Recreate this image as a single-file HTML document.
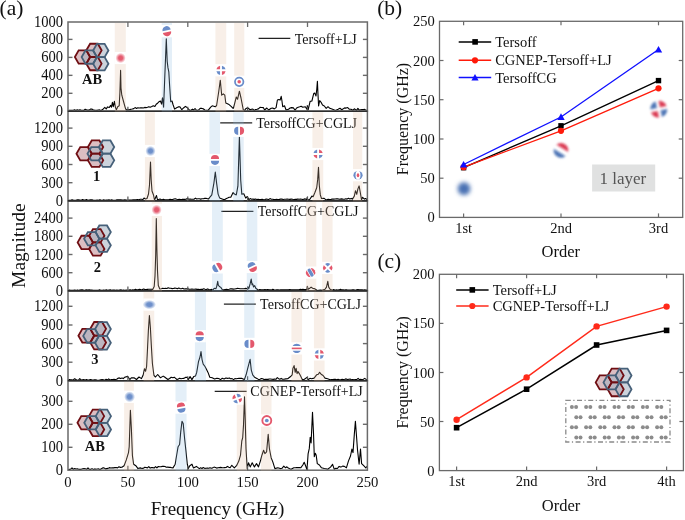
<!DOCTYPE html><html><head><meta charset="utf-8"><style>html,body{margin:0;padding:0;background:#fff;}svg{display:block;will-change:transform}</style></head><body>
<svg width="685" height="520" viewBox="0 0 685 520" font-family="Liberation Serif">
<defs><filter id="soft" x="-50%" y="-50%" width="200%" height="200%"><feGaussianBlur stdDeviation="0.55"/></filter><filter id="blur2" x="-50%" y="-50%" width="200%" height="200%"><feGaussianBlur stdDeviation="1.5"/></filter><filter id="blur3" x="-50%" y="-50%" width="200%" height="200%"><feGaussianBlur stdDeviation="1.0"/></filter><filter id="blur4" x="-50%" y="-50%" width="200%" height="200%"><feGaussianBlur stdDeviation="1.3"/></filter><filter id="blur5" x="-80%" y="-80%" width="260%" height="260%"><feGaussianBlur stdDeviation="1.9"/></filter><radialGradient id="gR"><stop offset="0" stop-color="#df3a52"/><stop offset="0.4" stop-color="#df3a52" stop-opacity="0.95"/><stop offset="1" stop-color="#df3a52" stop-opacity="0"/></radialGradient><radialGradient id="gB"><stop offset="0" stop-color="#5079c0"/><stop offset="0.4" stop-color="#5079c0" stop-opacity="0.95"/><stop offset="1" stop-color="#5079c0" stop-opacity="0"/></radialGradient><radialGradient id="bigB"><stop offset="0" stop-color="#4a72b4"/><stop offset="0.45" stop-color="#5279b8"/><stop offset="1" stop-color="#7d9bcb" stop-opacity="0"/></radialGradient></defs>
<rect width="685" height="520" fill="#fff"/>
<polyline points="68.0,110.6 69.3,110.4 70.6,110.2 72.0,110.4 73.3,110.3 74.6,109.8 75.9,110.4 77.2,109.7 78.6,110.2 79.9,109.7 81.2,110.3 82.5,110.2 83.8,110.4 85.2,109.2 86.5,109.8 87.8,110.1 89.1,110.1 90.4,109.1 91.8,109.1 93.1,109.7 94.4,110.1 95.7,110.2 97.0,110.4 98.4,110.0 99.7,109.9 101.0,110.4 102.6,109.6 104.8,107.4 106.2,109.0 107.5,106.9 109.3,107.5 110.6,105.4 111.5,107.2 112.4,102.3 113.3,106.7 114.4,101.4 115.5,107.6 116.4,109.8 117.7,106.7 119.2,105.8 119.9,92.5 120.6,70.4 121.0,88.1 121.8,95.2 123.4,101.0 125.2,107.6 126.1,109.8 127.9,109.9 129.6,109.6 131.0,109.2 132.3,109.0 133.7,108.6 135.1,107.6 136.5,108.4 137.8,107.7 139.2,108.0 140.6,107.8 142.0,107.9 143.3,108.0 144.7,107.4 146.1,107.6 147.5,107.2 148.8,106.7 150.2,107.3 151.8,106.6 153.3,105.8 154.9,106.5 156.2,104.3 157.6,103.2 158.9,101.8 160.4,101.0 161.6,104.1 162.5,97.8 163.6,107.3 164.4,86.8 166.3,38.7 167.2,61.5 168.0,67.9 168.8,71.8 169.6,85.2 170.7,101.8 172.0,101.0 173.0,104.5 174.6,109.1 176.6,107.7 178.2,106.9 179.9,106.8 181.8,109.7 183.8,107.7 185.4,106.4 187.1,107.5 189.7,110.4 191.0,110.2 192.4,109.1 193.7,110.0 195.0,108.5 196.3,110.0 197.6,110.4 198.9,109.6 200.2,108.4 201.5,108.4 203.2,108.8 204.8,110.0 206.4,110.2 208.1,110.4 210.7,107.1 212.2,105.8 213.8,106.2 215.3,106.8 216.6,105.5 218.6,92.5 220.3,80.2 221.7,95.2 223.3,93.8 224.8,95.2 225.8,103.1 228.5,104.2 231.1,106.4 233.1,108.4 233.6,107.6 236.3,97.0 237.6,99.2 239.4,91.2 241.0,98.0 243.3,109.8 244.2,110.8 245.8,108.7 247.5,107.7 250.2,109.7 251.5,109.2 252.8,109.0 254.1,110.4 255.5,109.6 257.0,109.3 258.4,108.9 260.0,107.4 261.7,107.5 263.3,107.6 264.6,110.0 266.8,108.0 268.6,110.0 271.2,108.3 272.8,108.1 274.3,108.9 276.1,107.6 277.4,100.1 278.8,99.6 280.1,100.1 281.2,96.3 281.9,100.5 282.7,106.7 284.5,105.8 286.1,110.0 288.5,109.2 290.1,108.0 291.6,107.6 293.4,107.9 295.1,110.3 296.6,108.0 298.2,107.2 299.7,106.8 301.2,106.2 302.7,107.2 305.3,106.7 307.1,109.5 307.3,105.6 308.2,109.7 310.1,101.4 311.9,101.0 313.7,93.6 314.7,93.1 316.0,95.9 316.8,89.0 317.4,81.2 317.9,92.7 318.6,106.0 319.7,100.5 321.1,102.3 322.5,105.1 324.3,106.0 326.2,108.3 328.0,106.7 329.8,108.3 332.6,109.2 335.4,110.4 338.1,109.2 340.0,108.3 341.8,109.7 344.6,107.9 346.1,108.1 347.7,107.6 349.2,109.2 351.0,109.2 352.8,110.2 354.6,108.8 356.5,110.4 357.9,108.4 359.2,110.1 360.6,109.8 361.9,109.5 363.3,109.6 364.7,109.4 366.0,110.2 367.4,110.3" fill="none" stroke="#000" stroke-width="1.1" stroke-linejoin="round"/>
<polyline points="68.0,200.4 69.3,200.3 70.6,200.2 72.0,199.8 73.3,200.1 74.6,200.2 75.9,200.2 77.3,199.8 78.6,199.9 79.9,200.0 81.2,200.2 82.5,199.6 83.9,200.1 85.2,200.0 86.5,199.6 87.8,200.3 89.2,200.0 90.5,199.8 91.8,199.7 93.1,200.1 94.4,200.3 95.8,200.2 97.1,200.1 98.4,200.3 99.7,199.9 101.1,200.1 102.4,200.2 103.7,199.9 105.0,200.3 106.3,200.0 107.7,200.0 109.0,199.7 110.3,200.2 111.6,199.8 113.0,200.3 114.3,200.3 115.6,200.2 116.9,199.8 118.2,199.9 119.6,199.8 120.9,199.8 122.2,200.0 123.5,200.1 124.9,199.9 126.2,200.0 127.5,200.3 128.9,200.1 130.3,200.1 131.7,200.0 133.1,199.8 134.5,199.9 136.0,199.8 137.4,199.6 138.8,199.7 140.2,199.3 141.6,199.3 143.0,199.5 144.0,198.0 145.5,199.0 147.0,198.5 148.5,194.0 149.5,185.0 150.5,162.0 151.2,180.0 152.0,191.0 153.5,195.0 154.5,200.0 156.5,195.5 157.5,200.0 160.0,199.0 162.0,200.0 163.3,199.2 164.7,199.8 166.0,199.7 167.3,199.7 168.7,199.8 170.0,199.4 171.3,199.6 172.7,199.6 174.0,199.0 175.3,198.7 176.7,199.2 178.0,199.5 179.3,199.4 180.7,199.5 182.0,199.4 183.3,199.2 184.7,199.4 186.0,199.2 187.4,198.4 188.7,199.2 190.0,199.1 191.4,199.3 192.7,199.2 194.0,199.2 195.4,198.1 196.7,199.0 198.0,198.7 199.4,198.7 200.7,199.1 202.0,198.7 203.4,198.7 204.7,198.4 206.0,198.3 207.4,198.8 208.7,198.9 210.2,196.8 211.8,194.9 213.9,183.1 215.3,172.0 216.6,183.1 218.1,194.1 219.7,198.1 222.1,198.9 224.4,199.7 226.0,198.7 227.6,198.1 229.2,197.3 230.8,197.3 233.1,192.6 234.4,194.1 236.3,194.9 237.9,186.2 239.4,136.6 240.7,180.0 241.8,194.1 243.8,193.8 245.7,198.1 247.3,196.5 248.9,199.7 250.2,198.6 251.5,199.3 252.9,199.1 254.2,199.4 255.5,199.1 256.8,199.6 258.1,199.2 259.5,199.6 260.8,199.6 262.1,199.4 263.4,199.6 264.7,199.7 266.1,199.1 267.4,199.3 268.7,199.6 270.0,198.6 271.3,199.2 272.7,199.3 274.0,199.6 275.3,199.6 276.6,199.4 277.9,199.6 279.3,199.4 280.6,199.1 281.9,199.1 283.2,199.5 284.6,199.3 285.9,199.3 287.2,199.1 288.5,199.2 289.8,199.4 291.2,199.1 292.5,199.3 293.8,199.7 295.1,199.2 296.4,199.4 297.8,199.1 299.1,199.3 300.4,199.1 301.7,199.3 303.0,199.6 304.4,198.9 305.7,199.1 307.0,199.7 307.2,197.3 307.6,199.7 309.5,199.7 311.9,196.1 313.1,196.7 314.9,192.5 316.7,187.7 317.7,179.4 318.5,167.2 319.3,185.3 320.3,194.9 321.5,198.5 323.9,198.2 325.7,199.7 327.0,199.6 328.4,199.4 329.7,199.5 331.1,199.4 332.4,199.0 333.7,199.1 335.1,199.0 336.4,198.9 337.8,198.8 339.1,199.3 340.4,199.1 341.8,198.9 343.1,199.3 344.5,199.2 345.8,198.7 347.1,199.1 348.5,198.3 349.8,199.0 351.2,198.4 352.5,199.1 354.3,196.1 355.5,190.7 356.7,194.3 357.9,188.9 359.1,185.9 360.3,192.5 361.5,199.7 362.6,197.3 364.4,199.1 365.6,198.5 367.4,199.8" fill="none" stroke="#000" stroke-width="1.1" stroke-linejoin="round"/>
<polyline points="68.0,290.4 69.3,290.1 70.6,290.3 72.0,290.2 73.3,290.4 74.6,290.1 75.9,290.4 77.3,289.9 78.6,290.4 79.9,290.0 81.2,289.9 82.5,289.8 83.9,290.2 85.2,290.1 86.5,289.7 87.8,290.0 89.2,289.7 90.5,290.0 91.8,290.0 93.1,290.4 94.4,290.3 95.8,290.4 97.1,290.2 98.4,290.3 99.7,289.8 101.1,290.4 102.4,290.2 103.7,290.0 105.0,290.3 106.3,289.9 107.7,290.2 109.0,290.0 110.3,289.8 111.6,290.2 113.0,290.0 114.3,290.1 115.6,290.4 116.9,290.1 118.2,290.3 119.6,290.0 120.9,289.8 122.2,290.2 123.5,290.1 124.9,290.2 126.2,290.1 127.5,290.4 128.8,290.1 130.2,289.7 131.5,290.2 132.8,289.8 134.1,290.0 135.5,289.2 136.8,289.9 138.1,289.7 139.4,289.2 140.8,289.6 142.1,289.7 143.4,289.0 144.7,289.4 146.1,289.6 147.4,289.4 148.7,289.3 150.0,289.2 151.4,289.2 152.7,289.4 154.2,286.5 155.0,276.0 155.7,255.0 156.3,218.6 156.9,250.0 157.5,271.0 158.3,285.5 159.8,289.0 161.2,288.8 162.6,288.3 164.1,288.5 165.5,288.4 166.9,288.5 168.2,287.8 169.5,288.3 170.8,288.2 172.2,288.6 173.5,288.5 174.8,288.1 176.1,288.2 177.4,288.7 178.7,288.0 180.0,288.6 181.4,288.7 182.7,288.3 184.0,289.0 185.3,288.9 186.6,288.8 187.9,288.9 189.2,289.2 190.6,289.2 191.9,289.0 193.2,289.3 194.5,289.3 195.8,289.1 197.1,289.4 198.4,289.2 199.8,289.5 201.1,289.3 202.4,289.4 203.7,288.7 205.0,289.3 206.3,289.6 207.6,288.9 209.0,289.6 210.3,289.7 211.6,289.4 212.9,290.0 214.2,288.3 215.9,288.7 216.8,286.1 217.7,281.3 218.3,285.2 219.4,286.5 220.8,287.4 222.5,290.0 225.1,289.6 226.5,289.4 227.8,289.5 229.2,289.2 230.6,288.7 231.9,288.9 233.3,289.1 234.7,289.0 236.1,288.7 237.4,288.4 238.8,288.5 240.2,288.7 241.5,288.8 242.9,288.8 244.3,288.7 245.6,288.4 247.0,288.7 247.9,287.0 248.8,288.7 250.1,283.9 251.2,279.1 252.1,284.8 252.7,283.9 253.6,287.0 254.7,285.6 255.8,288.3 257.1,289.2 258.4,290.3 259.7,289.5 261.0,289.9 262.3,289.8 263.6,289.8 264.9,289.6 266.2,289.8 267.6,289.5 268.9,289.9 270.2,289.8 271.5,290.0 272.8,289.3 274.1,289.8 275.4,290.1 276.7,289.9 278.0,289.8 279.3,290.0 280.6,289.9 281.9,289.9 283.3,289.8 284.6,289.9 285.9,289.8 287.2,289.7 288.5,289.9 289.8,289.6 291.1,289.7 292.4,289.9 293.7,289.8 295.0,289.8 296.3,289.8 297.6,289.8 299.0,289.7 300.3,289.3 301.6,289.6 302.9,289.4 304.2,289.6 305.5,289.6 306.8,289.7 307.3,286.4 308.2,289.3 309.7,288.2 311.1,287.1 312.6,288.2 314.1,288.6 315.5,289.3 317.0,290.5 318.7,290.2 320.4,290.0 322.1,290.2 325.0,289.3 326.5,287.1 327.8,281.3 328.7,287.1 330.1,289.3 332.3,290.3 333.7,289.6 335.0,290.3 336.4,289.9 337.7,290.0 339.1,289.9 340.4,289.3 341.8,289.9 343.1,289.7 344.4,290.1 345.8,289.7 347.1,289.9 348.5,290.0 349.9,290.0 351.2,290.1 352.6,289.7 353.9,289.9 355.2,290.2 356.6,289.9 357.9,289.6 359.3,289.8 360.6,289.8 362.0,289.7 363.3,290.1 364.7,289.9 366.0,290.0 367.4,290.1" fill="none" stroke="#000" stroke-width="1.1" stroke-linejoin="round"/>
<polyline points="68.0,380.3 69.3,379.6 70.6,379.9 71.9,379.7 73.2,380.2 74.6,378.7 75.9,379.5 77.2,380.1 78.5,380.2 79.8,378.6 81.1,380.0 82.4,379.7 83.8,379.6 85.1,380.3 86.4,379.5 87.7,380.1 89.0,380.0 90.3,379.5 91.6,379.7 92.9,380.2 94.2,379.7 95.6,379.9 96.9,380.1 98.2,380.2 99.5,380.1 100.8,379.8 102.1,379.5 103.4,379.8 104.8,380.2 106.1,379.3 107.4,379.9 108.7,378.9 110.0,380.2 111.3,379.6 112.7,379.5 114.0,379.4 115.3,379.5 116.7,379.3 118.0,378.3 119.3,377.9 120.6,378.6 122.0,378.1 123.3,378.6 124.7,377.2 126.0,376.9 127.4,376.2 129.9,379.5 131.3,377.8 132.6,377.9 134.0,377.8 136.5,379.5 139.0,377.0 141.5,378.6 143.1,375.3 144.5,368.7 145.6,371.2 146.6,366.5 147.6,347.0 148.4,330.0 149.4,315.5 150.4,328.0 151.3,345.0 152.4,363.5 153.9,375.3 155.5,377.0 157.7,374.5 160.5,377.8 161.9,376.9 163.2,376.1 164.6,377.0 166.2,378.2 167.9,379.5 169.6,378.5 171.2,377.2 172.9,377.8 174.3,377.2 175.6,378.3 177.0,379.5 178.3,378.9 179.6,378.2 181.0,378.8 182.3,378.5 183.6,378.4 185.4,377.4 187.2,377.2 188.3,379.6 190.1,376.6 191.9,379.6 193.7,376.6 195.5,376.0 196.7,372.4 198.5,361.7 200.0,357.0 201.0,351.6 202.0,359.3 203.2,364.1 205.0,366.5 206.8,370.1 208.0,372.4 209.8,377.2 212.2,377.8 214.6,379.0 216.9,378.2 218.7,378.5 220.5,379.6 222.3,378.3 224.1,379.0 225.9,378.0 227.7,378.4 229.2,377.9 230.6,378.7 232.1,378.6 233.6,379.6 234.9,378.6 236.3,378.8 237.7,378.5 239.0,378.2 242.0,378.4 244.4,379.6 246.1,374.8 247.9,367.7 250.1,359.3 251.3,370.1 252.7,374.8 254.5,377.2 256.9,378.4 258.7,379.6 260.0,379.3 261.4,378.6 262.7,378.8 264.0,379.5 265.3,379.4 266.7,379.3 268.0,379.4 269.3,379.0 270.6,379.0 272.0,379.2 273.3,379.4 274.6,379.0 275.9,379.3 277.3,377.6 278.6,378.7 279.9,379.3 281.2,378.4 282.6,379.2 283.9,379.3 285.8,378.9 287.7,378.7 290.3,376.8 292.2,374.8 292.9,368.4 294.1,365.6 295.2,372.3 296.1,368.4 297.1,373.6 298.0,371.6 299.3,373.6 300.6,376.1 302.5,380.0 304.4,379.3 307.0,377.4 308.3,379.7 309.9,378.3 311.5,378.7 314.1,378.1 316.6,374.8 318.3,374.2 319.6,372.3 321.1,374.2 323.1,375.5 325.0,378.1 327.6,378.7 330.1,379.7 331.4,379.5 332.8,379.5 334.1,379.4 335.4,379.3 336.8,379.7 338.1,379.2 339.4,379.7 340.8,379.7 342.1,379.3 343.4,379.6 344.8,379.3 346.1,378.9 347.4,379.6 348.8,379.3 350.1,379.1 351.4,379.7 352.7,379.5 354.1,379.8 355.4,379.5 356.7,379.6 358.1,378.4 359.4,379.7 360.7,379.2 362.1,379.8 363.4,379.2 364.7,378.4 366.1,379.4 367.4,379.9" fill="none" stroke="#000" stroke-width="1.1" stroke-linejoin="round"/>
<polyline points="68.0,469.6 69.3,469.4 70.7,469.1 72.0,467.9 73.3,469.3 74.7,468.6 76.0,469.0 77.3,468.9 78.7,469.2 80.0,469.4 81.3,469.2 82.7,468.7 84.0,468.6 85.3,468.8 86.7,469.3 88.0,467.9 89.3,469.3 90.7,469.4 92.0,468.6 93.3,469.4 94.7,468.9 96.0,469.2 97.3,469.0 98.7,468.9 100.0,469.4 101.3,468.7 102.7,467.9 104.0,467.9 105.4,468.9 106.7,468.6 108.1,468.4 109.4,467.6 110.8,468.0 112.1,467.9 113.5,467.9 114.8,467.6 116.2,467.5 117.5,467.9 119.0,466.7 120.4,467.4 121.9,467.2 124.1,465.7 126.3,459.9 128.5,452.6 129.2,446.7 130.4,410.2 131.4,429.2 132.4,455.5 133.6,464.2 135.8,465.7 138.0,468.6 139.3,468.1 140.7,467.9 142.1,468.4 143.4,468.2 144.8,467.3 146.1,467.5 147.4,467.9 148.8,466.6 150.2,468.1 151.5,467.5 152.8,467.6 154.2,468.0 155.6,466.7 156.9,467.9 158.3,466.5 159.6,466.7 161.0,466.7 162.3,466.4 163.7,466.2 165.0,466.5 166.4,467.2 167.7,467.0 169.0,467.4 170.4,467.4 171.7,467.7 173.0,467.9 175.2,464.2 176.6,455.5 178.1,446.7 179.6,444.5 180.7,432.1 182.0,421.2 183.2,423.4 184.4,436.5 185.8,449.6 187.3,464.2 188.3,468.6 189.8,465.7 192.0,464.2 193.4,467.9 196.4,466.4 199.3,468.6 200.6,467.8 202.0,468.5 203.3,467.5 204.7,468.4 206.0,468.2 207.3,468.1 208.7,468.2 210.0,467.7 211.4,468.2 212.7,467.9 214.0,467.1 215.4,467.6 216.7,468.1 218.0,467.8 219.4,467.6 220.7,467.4 222.1,467.8 223.4,467.8 224.7,467.6 226.1,467.5 227.4,466.4 228.8,467.3 230.1,467.8 231.8,465.3 234.3,467.8 236.8,465.3 238.8,461.1 240.5,455.2 241.8,441.0 242.7,437.7 243.5,425.1 244.5,396.7 245.2,418.4 246.0,448.5 247.2,468.6 248.5,462.8 250.2,466.9 252.2,462.8 254.4,466.9 256.5,463.6 258.5,466.9 260.6,460.3 261.9,455.2 263.6,450.2 264.9,453.6 266.6,451.9 268.2,434.3 269.4,448.5 271.1,457.7 272.8,461.9 274.9,468.6 277.8,467.8 280.3,468.6 282.0,468.3 283.8,466.1 285.5,467.8 286.9,466.8 288.3,468.1 289.7,468.7 291.1,469.2 293.8,467.8 295.2,467.7 296.6,467.5 297.9,467.6 299.3,467.5 300.7,467.8 302.8,465.0 304.2,462.2 305.6,465.7 307.0,469.8 308.1,453.9 309.3,448.4 310.2,437.3 311.1,442.9 312.5,412.4 313.5,433.2 314.3,456.7 315.3,453.3 316.2,455.3 317.3,463.6 319.4,465.0 321.5,467.8 324.3,468.5 326.0,468.8 327.7,469.2 330.5,467.1 332.6,464.3 334.2,469.2 335.8,468.3 337.4,468.5 339.1,466.4 340.9,467.1 342.6,466.1 344.3,466.4 346.4,467.8 348.5,460.9 350.5,456.0 351.9,449.1 353.0,452.6 354.3,434.6 355.4,421.4 356.3,433.2 357.5,449.8 359.1,464.3 360.5,449.1 361.6,463.6 363.7,465.7 365.8,467.8 367.4,466.0" fill="none" stroke="#000" stroke-width="1.1" stroke-linejoin="round"/>
<rect x="68.0" y="22.0" width="299.4" height="89.2" fill="none" stroke="#6a6a6a" stroke-width="1.5"/>
<text transform="translate(63.1,116.2) scale(0.91,1)" font-size="16" text-anchor="end" fill="#111">0</text>
<line x1="68.0" y1="93.3" x2="72.5" y2="93.3" stroke="#6a6a6a" stroke-width="1.4"/>
<line x1="367.4" y1="93.3" x2="362.9" y2="93.3" stroke="#6a6a6a" stroke-width="1.4"/>
<text transform="translate(63.1,98.3) scale(0.91,1)" font-size="16" text-anchor="end" fill="#111">200</text>
<line x1="68.0" y1="75.35" x2="72.5" y2="75.35" stroke="#6a6a6a" stroke-width="1.4"/>
<line x1="367.4" y1="75.35" x2="362.9" y2="75.35" stroke="#6a6a6a" stroke-width="1.4"/>
<text transform="translate(63.1,80.3) scale(0.91,1)" font-size="16" text-anchor="end" fill="#111">400</text>
<line x1="68.0" y1="57.4" x2="72.5" y2="57.4" stroke="#6a6a6a" stroke-width="1.4"/>
<line x1="367.4" y1="57.4" x2="362.9" y2="57.4" stroke="#6a6a6a" stroke-width="1.4"/>
<text transform="translate(63.1,62.4) scale(0.91,1)" font-size="16" text-anchor="end" fill="#111">600</text>
<line x1="68.0" y1="39.4" x2="72.5" y2="39.4" stroke="#6a6a6a" stroke-width="1.4"/>
<line x1="367.4" y1="39.4" x2="362.9" y2="39.4" stroke="#6a6a6a" stroke-width="1.4"/>
<text transform="translate(63.1,44.4) scale(0.91,1)" font-size="16" text-anchor="end" fill="#111">800</text>
<text transform="translate(63.1,26.5) scale(0.91,1)" font-size="16" text-anchor="end" fill="#111">1000</text>
<rect x="68.0" y="111.2" width="299.4" height="89.7" fill="none" stroke="#6a6a6a" stroke-width="1.5"/>
<text transform="translate(63.1,205.9) scale(0.91,1)" font-size="16" text-anchor="end" fill="#111">0</text>
<line x1="68.0" y1="182.7" x2="72.5" y2="182.7" stroke="#6a6a6a" stroke-width="1.4"/>
<line x1="367.4" y1="182.7" x2="362.9" y2="182.7" stroke="#6a6a6a" stroke-width="1.4"/>
<text transform="translate(63.1,187.7) scale(0.91,1)" font-size="16" text-anchor="end" fill="#111">300</text>
<line x1="68.0" y1="164.5" x2="72.5" y2="164.5" stroke="#6a6a6a" stroke-width="1.4"/>
<line x1="367.4" y1="164.5" x2="362.9" y2="164.5" stroke="#6a6a6a" stroke-width="1.4"/>
<text transform="translate(63.1,169.5) scale(0.91,1)" font-size="16" text-anchor="end" fill="#111">600</text>
<line x1="68.0" y1="146.3" x2="72.5" y2="146.3" stroke="#6a6a6a" stroke-width="1.4"/>
<line x1="367.4" y1="146.3" x2="362.9" y2="146.3" stroke="#6a6a6a" stroke-width="1.4"/>
<text transform="translate(63.1,151.3) scale(0.91,1)" font-size="16" text-anchor="end" fill="#111">900</text>
<line x1="68.0" y1="128.1" x2="72.5" y2="128.1" stroke="#6a6a6a" stroke-width="1.4"/>
<line x1="367.4" y1="128.1" x2="362.9" y2="128.1" stroke="#6a6a6a" stroke-width="1.4"/>
<text transform="translate(63.1,133.1) scale(0.91,1)" font-size="16" text-anchor="end" fill="#111">1200</text>
<rect x="68.0" y="200.9" width="299.4" height="90.0" fill="none" stroke="#6a6a6a" stroke-width="1.5"/>
<text transform="translate(63.1,295.9) scale(0.91,1)" font-size="16" text-anchor="end" fill="#111">0</text>
<line x1="68.0" y1="272.7" x2="72.5" y2="272.7" stroke="#6a6a6a" stroke-width="1.4"/>
<line x1="367.4" y1="272.7" x2="362.9" y2="272.7" stroke="#6a6a6a" stroke-width="1.4"/>
<text transform="translate(63.1,277.7) scale(0.91,1)" font-size="16" text-anchor="end" fill="#111">600</text>
<line x1="68.0" y1="254.5" x2="72.5" y2="254.5" stroke="#6a6a6a" stroke-width="1.4"/>
<line x1="367.4" y1="254.5" x2="362.9" y2="254.5" stroke="#6a6a6a" stroke-width="1.4"/>
<text transform="translate(63.1,259.5) scale(0.91,1)" font-size="16" text-anchor="end" fill="#111">1200</text>
<line x1="68.0" y1="236.3" x2="72.5" y2="236.3" stroke="#6a6a6a" stroke-width="1.4"/>
<line x1="367.4" y1="236.3" x2="362.9" y2="236.3" stroke="#6a6a6a" stroke-width="1.4"/>
<text transform="translate(63.1,241.3) scale(0.91,1)" font-size="16" text-anchor="end" fill="#111">1800</text>
<line x1="68.0" y1="218.1" x2="72.5" y2="218.1" stroke="#6a6a6a" stroke-width="1.4"/>
<line x1="367.4" y1="218.1" x2="362.9" y2="218.1" stroke="#6a6a6a" stroke-width="1.4"/>
<text transform="translate(63.1,223.1) scale(0.91,1)" font-size="16" text-anchor="end" fill="#111">2400</text>
<rect x="68.0" y="290.9" width="299.4" height="89.9" fill="none" stroke="#6a6a6a" stroke-width="1.5"/>
<text transform="translate(63.1,385.8) scale(0.91,1)" font-size="16" text-anchor="end" fill="#111">0</text>
<line x1="68.0" y1="362.2" x2="72.5" y2="362.2" stroke="#6a6a6a" stroke-width="1.4"/>
<line x1="367.4" y1="362.2" x2="362.9" y2="362.2" stroke="#6a6a6a" stroke-width="1.4"/>
<text transform="translate(63.1,367.2) scale(0.91,1)" font-size="16" text-anchor="end" fill="#111">300</text>
<line x1="68.0" y1="343.6" x2="72.5" y2="343.6" stroke="#6a6a6a" stroke-width="1.4"/>
<line x1="367.4" y1="343.6" x2="362.9" y2="343.6" stroke="#6a6a6a" stroke-width="1.4"/>
<text transform="translate(63.1,348.6) scale(0.91,1)" font-size="16" text-anchor="end" fill="#111">600</text>
<line x1="68.0" y1="325.0" x2="72.5" y2="325.0" stroke="#6a6a6a" stroke-width="1.4"/>
<line x1="367.4" y1="325.0" x2="362.9" y2="325.0" stroke="#6a6a6a" stroke-width="1.4"/>
<text transform="translate(63.1,330.0) scale(0.91,1)" font-size="16" text-anchor="end" fill="#111">900</text>
<line x1="68.0" y1="306.3" x2="72.5" y2="306.3" stroke="#6a6a6a" stroke-width="1.4"/>
<line x1="367.4" y1="306.3" x2="362.9" y2="306.3" stroke="#6a6a6a" stroke-width="1.4"/>
<text transform="translate(63.1,311.3) scale(0.91,1)" font-size="16" text-anchor="end" fill="#111">1200</text>
<rect x="68.0" y="380.8" width="299.4" height="89.4" fill="none" stroke="#6a6a6a" stroke-width="1.5"/>
<text transform="translate(63.1,475.2) scale(0.91,1)" font-size="16" text-anchor="end" fill="#111">0</text>
<line x1="68.0" y1="447.3" x2="72.5" y2="447.3" stroke="#6a6a6a" stroke-width="1.4"/>
<line x1="367.4" y1="447.3" x2="362.9" y2="447.3" stroke="#6a6a6a" stroke-width="1.4"/>
<text transform="translate(63.1,452.3) scale(0.91,1)" font-size="16" text-anchor="end" fill="#111">100</text>
<line x1="68.0" y1="424.3" x2="72.5" y2="424.3" stroke="#6a6a6a" stroke-width="1.4"/>
<line x1="367.4" y1="424.3" x2="362.9" y2="424.3" stroke="#6a6a6a" stroke-width="1.4"/>
<text transform="translate(63.1,429.3) scale(0.91,1)" font-size="16" text-anchor="end" fill="#111">200</text>
<line x1="68.0" y1="401.3" x2="72.5" y2="401.3" stroke="#6a6a6a" stroke-width="1.4"/>
<line x1="367.4" y1="401.3" x2="362.9" y2="401.3" stroke="#6a6a6a" stroke-width="1.4"/>
<text transform="translate(63.1,406.3) scale(0.91,1)" font-size="16" text-anchor="end" fill="#111">300</text>
<line x1="68.0" y1="111.2" x2="367.4" y2="111.2" stroke="#1a1a1a" stroke-width="1.1"/>
<line x1="68.0" y1="200.9" x2="367.4" y2="200.9" stroke="#1a1a1a" stroke-width="1.1"/>
<line x1="68.0" y1="290.9" x2="367.4" y2="290.9" stroke="#1a1a1a" stroke-width="1.1"/>
<line x1="68.0" y1="380.8" x2="367.4" y2="380.8" stroke="#1a1a1a" stroke-width="1.1"/>
<line x1="127.9" y1="22" x2="127.9" y2="27" stroke="#6a6a6a" stroke-width="1.3"/>
<line x1="127.9" y1="111.2" x2="127.9" y2="106.7" stroke="#555" stroke-width="1.2"/>
<line x1="127.9" y1="200.9" x2="127.9" y2="196.4" stroke="#555" stroke-width="1.2"/>
<line x1="127.9" y1="290.9" x2="127.9" y2="286.4" stroke="#555" stroke-width="1.2"/>
<line x1="127.9" y1="380.8" x2="127.9" y2="376.3" stroke="#555" stroke-width="1.2"/>
<line x1="127.9" y1="470.2" x2="127.9" y2="465.7" stroke="#555" stroke-width="1.2"/>
<line x1="187.8" y1="22" x2="187.8" y2="27" stroke="#6a6a6a" stroke-width="1.3"/>
<line x1="187.8" y1="111.2" x2="187.8" y2="106.7" stroke="#555" stroke-width="1.2"/>
<line x1="187.8" y1="200.9" x2="187.8" y2="196.4" stroke="#555" stroke-width="1.2"/>
<line x1="187.8" y1="290.9" x2="187.8" y2="286.4" stroke="#555" stroke-width="1.2"/>
<line x1="187.8" y1="380.8" x2="187.8" y2="376.3" stroke="#555" stroke-width="1.2"/>
<line x1="187.8" y1="470.2" x2="187.8" y2="465.7" stroke="#555" stroke-width="1.2"/>
<line x1="247.6" y1="22" x2="247.6" y2="27" stroke="#6a6a6a" stroke-width="1.3"/>
<line x1="247.6" y1="111.2" x2="247.6" y2="106.7" stroke="#555" stroke-width="1.2"/>
<line x1="247.6" y1="200.9" x2="247.6" y2="196.4" stroke="#555" stroke-width="1.2"/>
<line x1="247.6" y1="290.9" x2="247.6" y2="286.4" stroke="#555" stroke-width="1.2"/>
<line x1="247.6" y1="380.8" x2="247.6" y2="376.3" stroke="#555" stroke-width="1.2"/>
<line x1="247.6" y1="470.2" x2="247.6" y2="465.7" stroke="#555" stroke-width="1.2"/>
<line x1="307.5" y1="22" x2="307.5" y2="27" stroke="#6a6a6a" stroke-width="1.3"/>
<line x1="307.5" y1="111.2" x2="307.5" y2="106.7" stroke="#555" stroke-width="1.2"/>
<line x1="307.5" y1="200.9" x2="307.5" y2="196.4" stroke="#555" stroke-width="1.2"/>
<line x1="307.5" y1="290.9" x2="307.5" y2="286.4" stroke="#555" stroke-width="1.2"/>
<line x1="307.5" y1="380.8" x2="307.5" y2="376.3" stroke="#555" stroke-width="1.2"/>
<line x1="307.5" y1="470.2" x2="307.5" y2="465.7" stroke="#555" stroke-width="1.2"/>
<text x="68.0" y="487.0" font-size="14.7" text-anchor="middle" fill="#111">0</text>
<text x="127.9" y="487.0" font-size="14.7" text-anchor="middle" fill="#111">50</text>
<text x="187.8" y="487.0" font-size="14.7" text-anchor="middle" fill="#111">100</text>
<text x="247.6" y="487.0" font-size="14.7" text-anchor="middle" fill="#111">150</text>
<text x="307.5" y="487.0" font-size="14.7" text-anchor="middle" fill="#111">200</text>
<text x="367.4" y="487.0" font-size="14.7" text-anchor="middle" fill="#111">250</text>
<text x="217.5" y="514.8" font-size="19" text-anchor="middle" fill="#111">Frequency (GHz)</text>
<text transform="translate(24.6,245.7) rotate(-90)" font-size="19.5" text-anchor="middle" fill="#111">Magnitude</text>
<text x="-0.4" y="15.1" font-size="21.5" fill="#111">(a)</text>
<line x1="258.6" y1="38.4" x2="290.3" y2="38.4" stroke="#222" stroke-width="1.2"/>
<text x="294.8" y="43.5" font-size="14" fill="#111">Tersoff+LJ</text>
<line x1="220.2" y1="122.9" x2="252.2" y2="122.9" stroke="#222" stroke-width="1.2"/>
<text x="256.3" y="128.0" font-size="14" fill="#111">TersoffCG+CGLJ</text>
<line x1="221.3" y1="211.3" x2="253.4" y2="211.3" stroke="#222" stroke-width="1.2"/>
<text x="257.7" y="216.3" font-size="14" fill="#111">TersoffCG+CGLJ</text>
<line x1="223.9" y1="304.2" x2="255.8" y2="304.2" stroke="#222" stroke-width="1.2"/>
<text x="260.1" y="309.0" font-size="14" fill="#111">TersoffCG+CGLJ</text>
<line x1="214.7" y1="391.3" x2="246.6" y2="391.3" stroke="#222" stroke-width="1.2"/>
<text x="250.3" y="396.3" font-size="14" fill="#111">CGNEP-Tersoff+LJ</text>
<path d="M90.15,57.00 L86.33,63.63 L78.67,63.63 L74.85,57.00 L78.67,50.37 L86.33,50.37 Z" fill="#c4939a" fill-opacity="0.6" stroke="none"/><path d="M101.62,50.37 L97.80,57.00 L90.15,57.00 L86.32,50.37 L90.15,43.75 L97.80,43.75 Z" fill="#c4939a" fill-opacity="0.6" stroke="none"/><path d="M101.62,63.63 L97.80,70.25 L90.15,70.25 L86.32,63.63 L90.15,57.00 L97.80,57.00 Z" fill="#c4939a" fill-opacity="0.6" stroke="none"/><path d="M96.95,57.10 L93.12,63.73 L85.47,63.73 L81.65,57.10 L85.47,50.47 L93.12,50.47 Z" fill="#a3aec0" fill-opacity="0.55" stroke="none"/><path d="M108.43,50.47 L104.60,57.10 L96.95,57.10 L93.12,50.47 L96.95,43.85 L104.60,43.85 Z" fill="#a3aec0" fill-opacity="0.55" stroke="none"/><path d="M108.43,63.73 L104.60,70.35 L96.95,70.35 L93.12,63.73 L96.95,57.10 L104.60,57.10 Z" fill="#a3aec0" fill-opacity="0.55" stroke="none"/><path d="M90.15,57.00 L86.33,63.63 L78.67,63.63 L74.85,57.00 L78.67,50.37 L86.33,50.37 Z" fill="none" stroke="#6f0e13" stroke-width="1.8"/><path d="M101.62,50.37 L97.80,57.00 L90.15,57.00 L86.32,50.37 L90.15,43.75 L97.80,43.75 Z" fill="none" stroke="#6f0e13" stroke-width="1.8"/><path d="M101.62,63.63 L97.80,70.25 L90.15,70.25 L86.32,63.63 L90.15,57.00 L97.80,57.00 Z" fill="none" stroke="#6f0e13" stroke-width="1.8"/><path d="M96.95,57.10 L93.12,63.73 L85.47,63.73 L81.65,57.10 L85.47,50.47 L93.12,50.47 Z" fill="none" stroke="#466079" stroke-width="1.8"/><path d="M108.43,50.47 L104.60,57.10 L96.95,57.10 L93.12,50.47 L96.95,43.85 L104.60,43.85 Z" fill="none" stroke="#466079" stroke-width="1.8"/><path d="M108.43,63.73 L104.60,70.35 L96.95,70.35 L93.12,63.73 L96.95,57.10 L104.60,57.10 Z" fill="none" stroke="#466079" stroke-width="1.8"/>
<text x="92.2" y="84.3" font-size="14.5" font-weight="bold" text-anchor="middle" fill="#111">AB</text>
<path d="M91.75,153.70 L87.92,160.33 L80.27,160.33 L76.45,153.70 L80.27,147.07 L87.92,147.07 Z" fill="#c4939a" fill-opacity="0.6" stroke="none"/><path d="M103.22,147.07 L99.40,153.70 L91.75,153.70 L87.92,147.07 L91.75,140.45 L99.40,140.45 Z" fill="#c4939a" fill-opacity="0.6" stroke="none"/><path d="M103.22,160.33 L99.40,166.95 L91.75,166.95 L87.92,160.33 L91.75,153.70 L99.40,153.70 Z" fill="#c4939a" fill-opacity="0.6" stroke="none"/><path d="M102.75,153.70 L98.92,160.33 L91.27,160.33 L87.45,153.70 L91.27,147.07 L98.92,147.07 Z" fill="#a3aec0" fill-opacity="0.55" stroke="none"/><path d="M114.22,147.07 L110.40,153.70 L102.75,153.70 L98.92,147.07 L102.75,140.45 L110.40,140.45 Z" fill="#a3aec0" fill-opacity="0.55" stroke="none"/><path d="M114.22,160.33 L110.40,166.95 L102.75,166.95 L98.92,160.33 L102.75,153.70 L110.40,153.70 Z" fill="#a3aec0" fill-opacity="0.55" stroke="none"/><path d="M91.75,153.70 L87.92,160.33 L80.27,160.33 L76.45,153.70 L80.27,147.07 L87.92,147.07 Z" fill="none" stroke="#6f0e13" stroke-width="1.8"/><path d="M103.22,147.07 L99.40,153.70 L91.75,153.70 L87.92,147.07 L91.75,140.45 L99.40,140.45 Z" fill="none" stroke="#6f0e13" stroke-width="1.8"/><path d="M103.22,160.33 L99.40,166.95 L91.75,166.95 L87.92,160.33 L91.75,153.70 L99.40,153.70 Z" fill="none" stroke="#6f0e13" stroke-width="1.8"/><path d="M102.75,153.70 L98.92,160.33 L91.27,160.33 L87.45,153.70 L91.27,147.07 L98.92,147.07 Z" fill="none" stroke="#466079" stroke-width="1.8"/><path d="M114.22,147.07 L110.40,153.70 L102.75,153.70 L98.92,147.07 L102.75,140.45 L110.40,140.45 Z" fill="none" stroke="#466079" stroke-width="1.8"/><path d="M114.22,160.33 L110.40,166.95 L102.75,166.95 L98.92,160.33 L102.75,153.70 L110.40,153.70 Z" fill="none" stroke="#466079" stroke-width="1.8"/>
<text x="96.6" y="180.6" font-size="14.5" font-weight="bold" text-anchor="middle" fill="#111">1</text>
<path d="M92.95,242.40 L89.12,249.03 L81.47,249.03 L77.65,242.40 L81.47,235.77 L89.12,235.77 Z" fill="#c4939a" fill-opacity="0.6" stroke="none"/><path d="M104.43,235.77 L100.60,242.40 L92.95,242.40 L89.12,235.77 L92.95,229.15 L100.60,229.15 Z" fill="#c4939a" fill-opacity="0.6" stroke="none"/><path d="M104.43,249.03 L100.60,255.65 L92.95,255.65 L89.12,249.03 L92.95,242.40 L100.60,242.40 Z" fill="#c4939a" fill-opacity="0.6" stroke="none"/><path d="M99.35,238.70 L95.53,245.33 L87.88,245.33 L84.05,238.70 L87.88,232.07 L95.53,232.07 Z" fill="#a3aec0" fill-opacity="0.55" stroke="none"/><path d="M110.83,232.07 L107.00,238.70 L99.35,238.70 L95.53,232.07 L99.35,225.45 L107.00,225.45 Z" fill="#a3aec0" fill-opacity="0.55" stroke="none"/><path d="M110.83,245.33 L107.00,251.95 L99.35,251.95 L95.53,245.33 L99.35,238.70 L107.00,238.70 Z" fill="#a3aec0" fill-opacity="0.55" stroke="none"/><path d="M92.95,242.40 L89.12,249.03 L81.47,249.03 L77.65,242.40 L81.47,235.77 L89.12,235.77 Z" fill="none" stroke="#6f0e13" stroke-width="1.8"/><path d="M104.43,235.77 L100.60,242.40 L92.95,242.40 L89.12,235.77 L92.95,229.15 L100.60,229.15 Z" fill="none" stroke="#6f0e13" stroke-width="1.8"/><path d="M104.43,249.03 L100.60,255.65 L92.95,255.65 L89.12,249.03 L92.95,242.40 L100.60,242.40 Z" fill="none" stroke="#6f0e13" stroke-width="1.8"/><path d="M99.35,238.70 L95.53,245.33 L87.88,245.33 L84.05,238.70 L87.88,232.07 L95.53,232.07 Z" fill="none" stroke="#466079" stroke-width="1.8"/><path d="M110.83,232.07 L107.00,238.70 L99.35,238.70 L95.53,232.07 L99.35,225.45 L107.00,225.45 Z" fill="none" stroke="#466079" stroke-width="1.8"/><path d="M110.83,245.33 L107.00,251.95 L99.35,251.95 L95.53,245.33 L99.35,238.70 L107.00,238.70 Z" fill="none" stroke="#466079" stroke-width="1.8"/>
<text x="97.4" y="271.8" font-size="14.5" font-weight="bold" text-anchor="middle" fill="#111">2</text>
<path d="M94.20,335.70 L90.25,342.54 L82.35,342.54 L78.40,335.70 L82.35,328.86 L90.25,328.86 Z" fill="#c4939a" fill-opacity="0.6" stroke="none"/><path d="M106.05,328.86 L102.10,335.70 L94.20,335.70 L90.25,328.86 L94.20,322.02 L102.10,322.02 Z" fill="#c4939a" fill-opacity="0.6" stroke="none"/><path d="M106.05,342.54 L102.10,349.38 L94.20,349.38 L90.25,342.54 L94.20,335.70 L102.10,335.70 Z" fill="#c4939a" fill-opacity="0.6" stroke="none"/><path d="M99.00,335.90 L95.05,342.74 L87.15,342.74 L83.20,335.90 L87.15,329.06 L95.05,329.06 Z" fill="#a3aec0" fill-opacity="0.55" stroke="none"/><path d="M110.85,329.06 L106.90,335.90 L99.00,335.90 L95.05,329.06 L99.00,322.22 L106.90,322.22 Z" fill="#a3aec0" fill-opacity="0.55" stroke="none"/><path d="M110.85,342.74 L106.90,349.58 L99.00,349.58 L95.05,342.74 L99.00,335.90 L106.90,335.90 Z" fill="#a3aec0" fill-opacity="0.55" stroke="none"/><path d="M94.20,335.70 L90.25,342.54 L82.35,342.54 L78.40,335.70 L82.35,328.86 L90.25,328.86 Z" fill="none" stroke="#6f0e13" stroke-width="1.8"/><path d="M106.05,328.86 L102.10,335.70 L94.20,335.70 L90.25,328.86 L94.20,322.02 L102.10,322.02 Z" fill="none" stroke="#6f0e13" stroke-width="1.8"/><path d="M106.05,342.54 L102.10,349.38 L94.20,349.38 L90.25,342.54 L94.20,335.70 L102.10,335.70 Z" fill="none" stroke="#6f0e13" stroke-width="1.8"/><path d="M99.00,335.90 L95.05,342.74 L87.15,342.74 L83.20,335.90 L87.15,329.06 L95.05,329.06 Z" fill="none" stroke="#466079" stroke-width="1.8"/><path d="M110.85,329.06 L106.90,335.90 L99.00,335.90 L95.05,329.06 L99.00,322.22 L106.90,322.22 Z" fill="none" stroke="#466079" stroke-width="1.8"/><path d="M110.85,342.74 L106.90,349.58 L99.00,349.58 L95.05,342.74 L99.00,335.90 L106.90,335.90 Z" fill="none" stroke="#466079" stroke-width="1.8"/>
<text x="94.8" y="363.6" font-size="14.5" font-weight="bold" text-anchor="middle" fill="#111">3</text>
<path d="M92.75,422.80 L88.92,429.43 L81.27,429.43 L77.45,422.80 L81.27,416.17 L88.92,416.17 Z" fill="#c4939a" fill-opacity="0.6" stroke="none"/><path d="M104.22,416.17 L100.40,422.80 L92.75,422.80 L88.92,416.17 L92.75,409.55 L100.40,409.55 Z" fill="#c4939a" fill-opacity="0.6" stroke="none"/><path d="M104.22,429.43 L100.40,436.05 L92.75,436.05 L88.92,429.43 L92.75,422.80 L100.40,422.80 Z" fill="#c4939a" fill-opacity="0.6" stroke="none"/><path d="M99.55,422.80 L95.72,429.43 L88.07,429.43 L84.25,422.80 L88.07,416.17 L95.72,416.17 Z" fill="#a3aec0" fill-opacity="0.55" stroke="none"/><path d="M111.03,416.17 L107.20,422.80 L99.55,422.80 L95.72,416.17 L99.55,409.55 L107.20,409.55 Z" fill="#a3aec0" fill-opacity="0.55" stroke="none"/><path d="M111.03,429.43 L107.20,436.05 L99.55,436.05 L95.72,429.43 L99.55,422.80 L107.20,422.80 Z" fill="#a3aec0" fill-opacity="0.55" stroke="none"/><path d="M92.75,422.80 L88.92,429.43 L81.27,429.43 L77.45,422.80 L81.27,416.17 L88.92,416.17 Z" fill="none" stroke="#6f0e13" stroke-width="1.8"/><path d="M104.22,416.17 L100.40,422.80 L92.75,422.80 L88.92,416.17 L92.75,409.55 L100.40,409.55 Z" fill="none" stroke="#6f0e13" stroke-width="1.8"/><path d="M104.22,429.43 L100.40,436.05 L92.75,436.05 L88.92,429.43 L92.75,422.80 L100.40,422.80 Z" fill="none" stroke="#6f0e13" stroke-width="1.8"/><path d="M99.55,422.80 L95.72,429.43 L88.07,429.43 L84.25,422.80 L88.07,416.17 L95.72,416.17 Z" fill="none" stroke="#466079" stroke-width="1.8"/><path d="M111.03,416.17 L107.20,422.80 L99.55,422.80 L95.72,416.17 L99.55,409.55 L107.20,409.55 Z" fill="none" stroke="#466079" stroke-width="1.8"/><path d="M111.03,429.43 L107.20,436.05 L99.55,436.05 L95.72,429.43 L99.55,422.80 L107.20,422.80 Z" fill="none" stroke="#466079" stroke-width="1.8"/>
<text x="94.9" y="451.0" font-size="14.5" font-weight="bold" text-anchor="middle" fill="#111">AB</text>
<rect x="114.8" y="23.0" width="11.0" height="88.6" fill="#e3bfa3" fill-opacity="0.25"/>
<rect x="161.7" y="23.0" width="10.3" height="88.6" fill="#93bfe3" fill-opacity="0.25"/>
<rect x="215.4" y="23.0" width="10.8" height="88.6" fill="#e3bfa3" fill-opacity="0.25"/>
<rect x="234.2" y="23.0" width="10.1" height="88.6" fill="#e3bfa3" fill-opacity="0.25"/>
<rect x="144.9" y="112.2" width="10.0" height="89.1" fill="#e3bfa3" fill-opacity="0.25"/>
<rect x="209.4" y="112.2" width="10.6" height="89.1" fill="#93bfe3" fill-opacity="0.25"/>
<rect x="233.2" y="112.2" width="10.5" height="89.1" fill="#93bfe3" fill-opacity="0.25"/>
<rect x="312.4" y="112.2" width="10.8" height="89.1" fill="#e3bfa3" fill-opacity="0.25"/>
<rect x="353.0" y="112.2" width="9.2" height="89.1" fill="#e3bfa3" fill-opacity="0.25"/>
<rect x="151.8" y="201.9" width="10.2" height="89.4" fill="#e3bfa3" fill-opacity="0.25"/>
<rect x="212.0" y="201.9" width="10.8" height="89.4" fill="#93bfe3" fill-opacity="0.25"/>
<rect x="246.8" y="201.9" width="10.5" height="89.4" fill="#93bfe3" fill-opacity="0.25"/>
<rect x="306.0" y="201.9" width="10.3" height="89.4" fill="#e3bfa3" fill-opacity="0.25"/>
<rect x="322.1" y="201.9" width="10.5" height="89.4" fill="#e3bfa3" fill-opacity="0.25"/>
<rect x="143.5" y="291.9" width="10.7" height="89.3" fill="#e3bfa3" fill-opacity="0.25"/>
<rect x="194.9" y="291.9" width="11.1" height="89.3" fill="#93bfe3" fill-opacity="0.25"/>
<rect x="244.2" y="291.9" width="10.3" height="89.3" fill="#93bfe3" fill-opacity="0.25"/>
<rect x="291.4" y="291.9" width="10.7" height="89.3" fill="#e3bfa3" fill-opacity="0.25"/>
<rect x="313.9" y="291.9" width="10.7" height="89.3" fill="#e3bfa3" fill-opacity="0.25"/>
<rect x="124.1" y="381.8" width="9.8" height="88.8" fill="#e3bfa3" fill-opacity="0.25"/>
<rect x="175.5" y="381.8" width="11.1" height="88.8" fill="#93bfe3" fill-opacity="0.25"/>
<rect x="236.8" y="381.8" width="10.3" height="88.8" fill="#e3bfa3" fill-opacity="0.25"/>
<rect x="261.0" y="381.8" width="10.5" height="88.8" fill="#e3bfa3" fill-opacity="0.25"/>
<rect x="114.5" y="51.9" width="12.2" height="12.2" fill="#fff"/>
<rect x="160.7" y="25.1" width="12.2" height="12.2" fill="#fff"/>
<rect x="214.9" y="64.2" width="12.2" height="12.2" fill="#fff"/>
<rect x="233.1" y="75.7" width="12.2" height="12.2" fill="#fff"/>
<rect x="144.4" y="144.9" width="12.2" height="12.2" fill="#fff"/>
<rect x="208.9" y="153.8" width="12.2" height="12.2" fill="#fff"/>
<rect x="233.0" y="124.7" width="12.2" height="12.2" fill="#fff"/>
<rect x="312.0" y="147.9" width="12.2" height="12.2" fill="#fff"/>
<rect x="351.9" y="169.1" width="12.2" height="12.2" fill="#fff"/>
<rect x="150.5" y="203.7" width="12.2" height="12.2" fill="#fff"/>
<rect x="211.2" y="261.3" width="12.2" height="12.2" fill="#fff"/>
<rect x="246.2" y="260.9" width="12.2" height="12.2" fill="#fff"/>
<rect x="304.5" y="266.5" width="12.2" height="12.2" fill="#fff"/>
<rect x="321.6" y="261.8" width="12.2" height="12.2" fill="#fff"/>
<rect x="143.3" y="298.5" width="12.2" height="12.2" fill="#fff"/>
<rect x="193.6" y="330.1" width="12.2" height="12.2" fill="#fff"/>
<rect x="243.3" y="337.8" width="12.2" height="12.2" fill="#fff"/>
<rect x="290.6" y="342.3" width="12.2" height="12.2" fill="#fff"/>
<rect x="313.2" y="348.3" width="12.2" height="12.2" fill="#fff"/>
<rect x="123.5" y="390.7" width="12.2" height="12.2" fill="#fff"/>
<rect x="175.1" y="401.5" width="12.2" height="12.2" fill="#fff"/>
<rect x="231.1" y="392.5" width="12.2" height="12.2" fill="#fff"/>
<rect x="260.7" y="414.4" width="12.2" height="12.2" fill="#fff"/>
<g transform="translate(120.6,58.0)" filter="url(#soft)" opacity="0.85"><circle r="5.170000000000001" fill="url(#gR)"/></g>
<g transform="translate(166.8,31.2)" filter="url(#soft)" opacity="0.85"><g transform="rotate(-12)"><path d="M-4.2,-0.9 A4.2,4.2 0 0 1 4.2,-0.9 Z" fill="#5079c0"/><path d="M-4.2,0.9 A4.2,4.2 0 0 0 4.2,0.9 Z" fill="#df3a52"/></g></g>
<g transform="translate(221.0,70.3)" filter="url(#soft)" opacity="0.85"><g transform="rotate(0)"><path d="M-0.95,-0.95 L-0.95,-4.606 A4.606,4.606 0 0 0 -4.606,-0.95 Z" fill="#df3a52"/><path d="M0.95,-0.95 L0.95,-4.606 A4.606,4.606 0 0 1 4.606,-0.95 Z" fill="#5079c0"/><path d="M-0.95,0.95 L-0.95,4.606 A4.606,4.606 0 0 1 -4.606,0.95 Z" fill="#5079c0"/><path d="M0.95,0.95 L0.95,4.606 A4.606,4.606 0 0 0 4.606,0.95 Z" fill="#df3a52"/></g></g>
<g transform="translate(239.2,81.8)" filter="url(#soft)" opacity="0.85"><circle r="4.214" fill="none" stroke="#5079c0" stroke-width="1.764"/><circle r="1.764" fill="#df3a52"/></g>
<g transform="translate(150.5,151.0)" filter="url(#soft)" opacity="0.85"><circle r="5.170000000000001" fill="url(#gB)"/></g>
<g transform="translate(215.0,159.9)" filter="url(#soft)" opacity="0.85"><g transform="rotate(0)"><path d="M-4.1,-0.9 A4.1,4.1 0 0 1 4.1,-0.9 Z" fill="#df3a52"/><path d="M-4.1,0.9 A4.1,4.1 0 0 0 4.1,0.9 Z" fill="#5079c0"/></g></g>
<g transform="translate(239.1,130.8)" filter="url(#soft)" opacity="0.85"><g transform="rotate(0)"><path d="M-0.9,-4.1 A4.1,4.1 0 0 0 -0.9,4.1 Z" fill="#5079c0"/><path d="M0.9,-4.1 A4.1,4.1 0 0 1 0.9,4.1 Z" fill="#df3a52"/></g></g>
<g transform="translate(318.1,154.0)" filter="url(#soft)" opacity="0.85"><g transform="rotate(0)"><path d="M-0.95,-0.95 L-0.95,-4.606 A4.606,4.606 0 0 0 -4.606,-0.95 Z" fill="#5079c0"/><path d="M0.95,-0.95 L0.95,-4.606 A4.606,4.606 0 0 1 4.606,-0.95 Z" fill="#df3a52"/><path d="M-0.95,0.95 L-0.95,4.606 A4.606,4.606 0 0 1 -4.606,0.95 Z" fill="#df3a52"/><path d="M0.95,0.95 L0.95,4.606 A4.606,4.606 0 0 0 4.606,0.95 Z" fill="#5079c0"/></g></g>
<g transform="translate(358.0,175.2)" filter="url(#soft)" opacity="0.85"><ellipse rx="4.606" ry="4.23" fill="#5079c0"/><ellipse rx="2.4440000000000004" ry="4.465" fill="#fff"/><ellipse rx="1.2690000000000001" ry="1.974" fill="#df3a52"/></g>
<g transform="translate(156.6,209.8)" filter="url(#soft)" opacity="0.85"><circle r="5.170000000000001" fill="url(#gR)"/></g>
<g transform="translate(217.3,267.4)" filter="url(#soft)" opacity="0.85"><g transform="rotate(-30)"><path d="M-0.9,-4.1 A4.1,4.1 0 0 0 -0.9,4.1 Z" fill="#5079c0"/><path d="M0.9,-4.1 A4.1,4.1 0 0 1 0.9,4.1 Z" fill="#df3a52"/></g></g>
<g transform="translate(252.3,267.0)" filter="url(#soft)" opacity="0.85"><g transform="rotate(-25)"><path d="M-4.1,-0.9 A4.1,4.1 0 0 1 4.1,-0.9 Z" fill="#5079c0"/><path d="M-4.1,0.9 A4.1,4.1 0 0 0 4.1,0.9 Z" fill="#df3a52"/></g></g>
<g transform="translate(310.6,272.6)" filter="url(#soft)" opacity="0.85"><g transform="rotate(-30)"><path d="M-4.7,0 A4.7,4.7 0 0 1 -2.35,-4.042 L-2.35,4.042 A4.7,4.7 0 0 1 -4.7,0Z" fill="#df3a52"/><rect x="-1.645" y="-4.371" width="3.29" height="8.742" rx="1.41" fill="#5079c0"/><path d="M4.7,0 A4.7,4.7 0 0 0 2.35,-4.042 L2.35,4.042 A4.7,4.7 0 0 0 4.7,0Z" fill="#df3a52"/></g></g>
<g transform="translate(327.7,267.9)" filter="url(#soft)" opacity="0.85"><g transform="rotate(45)"><path d="M-0.95,-0.95 L-0.95,-4.606 A4.606,4.606 0 0 0 -4.606,-0.95 Z" fill="#5079c0"/><path d="M0.95,-0.95 L0.95,-4.606 A4.606,4.606 0 0 1 4.606,-0.95 Z" fill="#df3a52"/><path d="M-0.95,0.95 L-0.95,4.606 A4.606,4.606 0 0 1 -4.606,0.95 Z" fill="#df3a52"/><path d="M0.95,0.95 L0.95,4.606 A4.606,4.606 0 0 0 4.606,0.95 Z" fill="#5079c0"/></g></g>
<g transform="translate(149.4,304.6)" filter="url(#soft)" opacity="0.85"><ellipse rx="6.615000000000001" ry="4.655" fill="url(#gB)"/></g>
<g transform="translate(199.7,336.2)" filter="url(#soft)" opacity="0.85"><g transform="rotate(0)"><path d="M-4.1,-0.9 A4.1,4.1 0 0 1 4.1,-0.9 Z" fill="#df3a52"/><path d="M-4.1,0.9 A4.1,4.1 0 0 0 4.1,0.9 Z" fill="#5079c0"/></g></g>
<g transform="translate(249.4,343.9)" filter="url(#soft)" opacity="0.85"><g transform="rotate(0)"><path d="M-0.9,-4.1 A4.1,4.1 0 0 0 -0.9,4.1 Z" fill="#5079c0"/><path d="M0.9,-4.1 A4.1,4.1 0 0 1 0.9,4.1 Z" fill="#df3a52"/></g></g>
<g transform="translate(296.7,348.4)" filter="url(#soft)" opacity="0.85"><path d="M-4.042,-2.35 A4.7,4.7 0 0 1 4.042,-2.35 Z" fill="#5079c0"/><rect x="-4.9350000000000005" y="-0.8" width="9.870000000000001" height="1.6" fill="#df3a52"/><path d="M-4.042,2.35 A4.7,4.7 0 0 0 4.042,2.35 Z" fill="#5079c0"/></g>
<g transform="translate(319.3,354.4)" filter="url(#soft)" opacity="0.85"><g transform="rotate(0)"><path d="M-0.95,-0.95 L-0.95,-4.606 A4.606,4.606 0 0 0 -4.606,-0.95 Z" fill="#5079c0"/><path d="M0.95,-0.95 L0.95,-4.606 A4.606,4.606 0 0 1 4.606,-0.95 Z" fill="#df3a52"/><path d="M-0.95,0.95 L-0.95,4.606 A4.606,4.606 0 0 1 -4.606,0.95 Z" fill="#df3a52"/><path d="M0.95,0.95 L0.95,4.606 A4.606,4.606 0 0 0 4.606,0.95 Z" fill="#5079c0"/></g></g>
<g transform="translate(129.6,396.8)" filter="url(#soft)" opacity="0.85"><circle r="5.5" fill="url(#gB)"/></g>
<g transform="translate(181.2,407.6)" filter="url(#soft)" opacity="0.85"><g transform="rotate(-10)"><path d="M-4.1,-0.9 A4.1,4.1 0 0 1 4.1,-0.9 Z" fill="#df3a52"/><path d="M-4.1,0.9 A4.1,4.1 0 0 0 4.1,0.9 Z" fill="#5079c0"/></g></g>
<g transform="translate(237.2,398.6)" filter="url(#soft)" opacity="0.85"><g transform="rotate(-20)"><path d="M-0.95,-0.95 L-0.95,-4.606 A4.606,4.606 0 0 0 -4.606,-0.95 Z" fill="#df3a52"/><path d="M0.95,-0.95 L0.95,-4.606 A4.606,4.606 0 0 1 4.606,-0.95 Z" fill="#5079c0"/><path d="M-0.95,0.95 L-0.95,4.606 A4.606,4.606 0 0 1 -4.606,0.95 Z" fill="#5079c0"/><path d="M0.95,0.95 L0.95,4.606 A4.606,4.606 0 0 0 4.606,0.95 Z" fill="#df3a52"/></g></g>
<g transform="translate(266.8,420.5)" filter="url(#soft)" opacity="0.85"><circle r="4.472" fill="none" stroke="#df3a52" stroke-width="1.8719999999999999"/><circle r="1.8719999999999999" fill="#5079c0"/></g>
<text x="377.2" y="14.9" font-size="21.5" fill="#111">(b)</text>
<rect x="592.1" y="164.5" width="63.1" height="27" fill="#e0e1e1"/>
<text x="622.8" y="184.3" font-size="17" text-anchor="middle" fill="#555">1 layer</text>
<circle cx="464" cy="188.7" r="6.4" fill="#4a71b3" filter="url(#blur5)"/>
<g transform="translate(561,150.4) rotate(32)" filter="url(#blur4)"><path d="M-6.9,-2.4 A7.4,7.4 0 0 1 6.9,-2.4 Z" fill="#da3a52"/><path d="M-6.9,2.4 A7.4,7.4 0 0 0 6.9,2.4 Z" fill="#4d74b5"/></g>
<g transform="translate(658.8,109.2) rotate(-12)" filter="url(#blur3)"><path d="M-1.5,-1.5 L-1.5,-8.3 A8.4,8.4 0 0 0 -8.3,-1.5 Z" fill="#4d74b5"/><path d="M1.5,-1.5 L1.5,-8.3 A8.4,8.4 0 0 1 8.3,-1.5 Z" fill="#da3a52"/><path d="M-1.5,1.5 L-1.5,8.3 A8.4,8.4 0 0 1 -8.3,1.5 Z" fill="#da3a52"/><path d="M1.5,1.5 L1.5,8.3 A8.4,8.4 0 0 0 8.3,1.5 Z" fill="#4d74b5"/></g>
<polyline points="463.6,167.7 561.0,125.8 658.5,80.6" fill="none" stroke="#000" stroke-width="1.35"/>
<rect x="460.90000000000003" y="165.0" width="5.4" height="5.4" fill="#000"/>
<rect x="558.3" y="123.1" width="5.4" height="5.4" fill="#000"/>
<rect x="655.8" y="77.9" width="5.4" height="5.4" fill="#000"/>
<polyline points="463.6,167.2 561.0,130.8 658.5,88.3" fill="none" stroke="#ff1a0a" stroke-width="1.35"/>
<circle cx="463.6" cy="167.2" r="3.1" fill="#ff1a0a"/>
<circle cx="561.0" cy="130.8" r="3.1" fill="#ff1a0a"/>
<circle cx="658.5" cy="88.3" r="3.1" fill="#ff1a0a"/>
<polyline points="463.6,164.5 561.0,117.0 658.5,49.5" fill="none" stroke="#1010ff" stroke-width="1.35"/>
<path d="M463.6,160.90144 L467.3,167.50144 L459.90000000000003,167.50144 Z" fill="#1010ff"/>
<path d="M561.0,113.36680000000001 L564.7,119.9668 L557.3,119.9668 Z" fill="#1010ff"/>
<path d="M658.5,45.90839999999999 L662.2,52.508399999999995 L654.8,52.508399999999995 Z" fill="#1010ff"/>
<rect x="439.5" y="21.3" width="243.2" height="196.1" fill="none" stroke="#6a6a6a" stroke-width="1.3"/>
<line x1="439.5" y1="178.2" x2="443.5" y2="178.2" stroke="#6a6a6a" stroke-width="1.2"/>
<line x1="682.7" y1="178.2" x2="678.7" y2="178.2" stroke="#6a6a6a" stroke-width="1.2"/>
<line x1="439.5" y1="139.0" x2="443.5" y2="139.0" stroke="#6a6a6a" stroke-width="1.2"/>
<line x1="682.7" y1="139.0" x2="678.7" y2="139.0" stroke="#6a6a6a" stroke-width="1.2"/>
<line x1="439.5" y1="99.7" x2="443.5" y2="99.7" stroke="#6a6a6a" stroke-width="1.2"/>
<line x1="682.7" y1="99.7" x2="678.7" y2="99.7" stroke="#6a6a6a" stroke-width="1.2"/>
<line x1="439.5" y1="60.5" x2="443.5" y2="60.5" stroke="#6a6a6a" stroke-width="1.2"/>
<line x1="682.7" y1="60.5" x2="678.7" y2="60.5" stroke="#6a6a6a" stroke-width="1.2"/>
<text x="434.8" y="222.4" font-size="14.5" text-anchor="end" fill="#111">0</text>
<text x="434.8" y="183.2" font-size="14.5" text-anchor="end" fill="#111">50</text>
<text x="434.8" y="144.0" font-size="14.5" text-anchor="end" fill="#111">100</text>
<text x="434.8" y="104.7" font-size="14.5" text-anchor="end" fill="#111">150</text>
<text x="434.8" y="65.5" font-size="14.5" text-anchor="end" fill="#111">200</text>
<text x="434.8" y="26.3" font-size="14.5" text-anchor="end" fill="#111">250</text>
<line x1="463.6" y1="217.4" x2="463.6" y2="213.4" stroke="#6a6a6a" stroke-width="1.2"/>
<line x1="463.6" y1="21.3" x2="463.6" y2="25.3" stroke="#6a6a6a" stroke-width="1.2"/>
<text x="463.6" y="232.6" font-size="14.5" text-anchor="middle" fill="#111">1st</text>
<line x1="561.0" y1="217.4" x2="561.0" y2="213.4" stroke="#6a6a6a" stroke-width="1.2"/>
<line x1="561.0" y1="21.3" x2="561.0" y2="25.3" stroke="#6a6a6a" stroke-width="1.2"/>
<text x="561.0" y="232.6" font-size="14.5" text-anchor="middle" fill="#111">2nd</text>
<line x1="658.5" y1="217.4" x2="658.5" y2="213.4" stroke="#6a6a6a" stroke-width="1.2"/>
<line x1="658.5" y1="21.3" x2="658.5" y2="25.3" stroke="#6a6a6a" stroke-width="1.2"/>
<text x="658.5" y="232.6" font-size="14.5" text-anchor="middle" fill="#111">3rd</text>
<text x="560.8" y="256.8" font-size="16.5" text-anchor="middle" fill="#111">Order</text>
<text transform="translate(407.8,119) rotate(-90)" font-size="16" text-anchor="middle" fill="#111">Frequency (GHz)</text>
<line x1="458.7" y1="41.9" x2="491.2" y2="41.9" stroke="#000" stroke-width="1.5"/>
<rect x="472.3" y="39.1" width="5.6" height="5.6" fill="#000"/>
<text x="495.2" y="47.0" font-size="14.5" fill="#111">Tersoff</text>
<line x1="458.7" y1="60.3" x2="491.2" y2="60.3" stroke="#ff1a0a" stroke-width="1.5"/>
<circle cx="475" cy="60.3" r="3.1" fill="#ff1a0a"/>
<text x="495.2" y="65.4" font-size="14.5" fill="#111">CGNEP-Tersoff+LJ</text>
<line x1="458.7" y1="77.6" x2="491.2" y2="77.6" stroke="#1010ff" stroke-width="1.5"/>
<path d="M475,74.08 L478.6,80.47999999999999 L471.4,80.47999999999999 Z" fill="#1010ff"/>
<text x="495.2" y="82.7" font-size="14.5" fill="#111">TersoffCG</text>
<text x="377.4" y="267.6" font-size="21.5" fill="#111">(c)</text>
<rect x="565.8" y="400.4" width="104.2" height="41.6" fill="none" stroke="#8a8a8a" stroke-width="1.3" stroke-dasharray="5,2.5,1.2,2.5"/>
<circle cx="571.9" cy="407.0" r="2.0" fill="#8c8c8c"/><circle cx="576.1" cy="407.0" r="2.0" fill="#8c8c8c"/>
<circle cx="586.1" cy="407.0" r="2.0" fill="#8c8c8c"/><circle cx="590.3" cy="407.0" r="2.0" fill="#8c8c8c"/>
<circle cx="600.3" cy="407.0" r="2.0" fill="#8c8c8c"/><circle cx="604.5" cy="407.0" r="2.0" fill="#8c8c8c"/>
<circle cx="614.5" cy="407.0" r="2.0" fill="#8c8c8c"/><circle cx="618.7" cy="407.0" r="2.0" fill="#8c8c8c"/>
<circle cx="628.7" cy="407.0" r="2.0" fill="#8c8c8c"/><circle cx="632.9" cy="407.0" r="2.0" fill="#8c8c8c"/>
<circle cx="642.9" cy="407.0" r="2.0" fill="#8c8c8c"/><circle cx="647.1" cy="407.0" r="2.0" fill="#8c8c8c"/>
<circle cx="657.1" cy="407.0" r="2.0" fill="#8c8c8c"/><circle cx="661.3" cy="407.0" r="2.0" fill="#8c8c8c"/>
<circle cx="576.3" cy="417.2" r="2.0" fill="#8c8c8c"/><circle cx="580.5" cy="417.2" r="2.0" fill="#8c8c8c"/>
<circle cx="590.5" cy="417.2" r="2.0" fill="#8c8c8c"/><circle cx="594.7" cy="417.2" r="2.0" fill="#8c8c8c"/>
<circle cx="604.7" cy="417.2" r="2.0" fill="#8c8c8c"/><circle cx="608.9" cy="417.2" r="2.0" fill="#8c8c8c"/>
<circle cx="618.9" cy="417.2" r="2.0" fill="#8c8c8c"/><circle cx="623.1" cy="417.2" r="2.0" fill="#8c8c8c"/>
<circle cx="633.1" cy="417.2" r="2.0" fill="#8c8c8c"/><circle cx="637.3" cy="417.2" r="2.0" fill="#8c8c8c"/>
<circle cx="647.3" cy="417.2" r="2.0" fill="#8c8c8c"/><circle cx="651.5" cy="417.2" r="2.0" fill="#8c8c8c"/>
<circle cx="661.5" cy="417.2" r="2.0" fill="#8c8c8c"/><circle cx="665.7" cy="417.2" r="2.0" fill="#8c8c8c"/>
<circle cx="571.9" cy="427.2" r="2.0" fill="#8c8c8c"/><circle cx="576.1" cy="427.2" r="2.0" fill="#8c8c8c"/>
<circle cx="586.1" cy="427.2" r="2.0" fill="#8c8c8c"/><circle cx="590.3" cy="427.2" r="2.0" fill="#8c8c8c"/>
<circle cx="600.3" cy="427.2" r="2.0" fill="#8c8c8c"/><circle cx="604.5" cy="427.2" r="2.0" fill="#8c8c8c"/>
<circle cx="614.5" cy="427.2" r="2.0" fill="#8c8c8c"/><circle cx="618.7" cy="427.2" r="2.0" fill="#8c8c8c"/>
<circle cx="628.7" cy="427.2" r="2.0" fill="#8c8c8c"/><circle cx="632.9" cy="427.2" r="2.0" fill="#8c8c8c"/>
<circle cx="642.9" cy="427.2" r="2.0" fill="#8c8c8c"/><circle cx="647.1" cy="427.2" r="2.0" fill="#8c8c8c"/>
<circle cx="657.1" cy="427.2" r="2.0" fill="#8c8c8c"/><circle cx="661.3" cy="427.2" r="2.0" fill="#8c8c8c"/>
<circle cx="576.3" cy="437.4" r="2.0" fill="#8c8c8c"/><circle cx="580.5" cy="437.4" r="2.0" fill="#8c8c8c"/>
<circle cx="590.5" cy="437.4" r="2.0" fill="#8c8c8c"/><circle cx="594.7" cy="437.4" r="2.0" fill="#8c8c8c"/>
<circle cx="604.7" cy="437.4" r="2.0" fill="#8c8c8c"/><circle cx="608.9" cy="437.4" r="2.0" fill="#8c8c8c"/>
<circle cx="618.9" cy="437.4" r="2.0" fill="#8c8c8c"/><circle cx="623.1" cy="437.4" r="2.0" fill="#8c8c8c"/>
<circle cx="633.1" cy="437.4" r="2.0" fill="#8c8c8c"/><circle cx="637.3" cy="437.4" r="2.0" fill="#8c8c8c"/>
<circle cx="647.3" cy="437.4" r="2.0" fill="#8c8c8c"/><circle cx="651.5" cy="437.4" r="2.0" fill="#8c8c8c"/>
<circle cx="661.5" cy="437.4" r="2.0" fill="#8c8c8c"/><circle cx="665.7" cy="437.4" r="2.0" fill="#8c8c8c"/>
<path d="M611.70,382.40 L607.70,389.33 L599.70,389.33 L595.70,382.40 L599.70,375.47 L607.70,375.47 Z" fill="#c4939a" fill-opacity="0.6" stroke="none"/><path d="M623.70,375.47 L619.70,382.40 L611.70,382.40 L607.70,375.47 L611.70,368.54 L619.70,368.54 Z" fill="#c4939a" fill-opacity="0.6" stroke="none"/><path d="M623.70,389.33 L619.70,396.26 L611.70,396.26 L607.70,389.33 L611.70,382.40 L619.70,382.40 Z" fill="#c4939a" fill-opacity="0.6" stroke="none"/><path d="M619.50,382.40 L615.50,389.33 L607.50,389.33 L603.50,382.40 L607.50,375.47 L615.50,375.47 Z" fill="#a3aec0" fill-opacity="0.55" stroke="none"/><path d="M631.50,375.47 L627.50,382.40 L619.50,382.40 L615.50,375.47 L619.50,368.54 L627.50,368.54 Z" fill="#a3aec0" fill-opacity="0.55" stroke="none"/><path d="M631.50,389.33 L627.50,396.26 L619.50,396.26 L615.50,389.33 L619.50,382.40 L627.50,382.40 Z" fill="#a3aec0" fill-opacity="0.55" stroke="none"/><path d="M611.70,382.40 L607.70,389.33 L599.70,389.33 L595.70,382.40 L599.70,375.47 L607.70,375.47 Z" fill="none" stroke="#6f0e13" stroke-width="1.8"/><path d="M623.70,375.47 L619.70,382.40 L611.70,382.40 L607.70,375.47 L611.70,368.54 L619.70,368.54 Z" fill="none" stroke="#6f0e13" stroke-width="1.8"/><path d="M623.70,389.33 L619.70,396.26 L611.70,396.26 L607.70,389.33 L611.70,382.40 L619.70,382.40 Z" fill="none" stroke="#6f0e13" stroke-width="1.8"/><path d="M619.50,382.40 L615.50,389.33 L607.50,389.33 L603.50,382.40 L607.50,375.47 L615.50,375.47 Z" fill="none" stroke="#466079" stroke-width="1.8"/><path d="M631.50,375.47 L627.50,382.40 L619.50,382.40 L615.50,375.47 L619.50,368.54 L627.50,368.54 Z" fill="none" stroke="#466079" stroke-width="1.8"/><path d="M631.50,389.33 L627.50,396.26 L619.50,396.26 L615.50,389.33 L619.50,382.40 L627.50,382.40 Z" fill="none" stroke="#466079" stroke-width="1.8"/>
<polyline points="456.6,427.7 526.6,389.2 596.6,345.0 666.6,330.4" fill="none" stroke="#000" stroke-width="1.5"/>
<rect x="453.8" y="424.9" width="5.6" height="5.6" fill="#000"/>
<rect x="523.8000000000001" y="386.4" width="5.6" height="5.6" fill="#000"/>
<rect x="593.8000000000001" y="342.2" width="5.6" height="5.6" fill="#000"/>
<rect x="663.8000000000001" y="327.6" width="5.6" height="5.6" fill="#000"/>
<polyline points="456.6,419.7 526.6,377.4 596.6,326.4 666.6,306.6" fill="none" stroke="#ff2a1a" stroke-width="1.5"/>
<circle cx="456.6" cy="419.7" r="3.2" fill="#ff2a1a"/>
<circle cx="526.6" cy="377.4" r="3.2" fill="#ff2a1a"/>
<circle cx="596.6" cy="326.4" r="3.2" fill="#ff2a1a"/>
<circle cx="666.6" cy="306.6" r="3.2" fill="#ff2a1a"/>
<rect x="439.4" y="274.3" width="244.0" height="196.3" fill="none" stroke="#6a6a6a" stroke-width="1.3"/>
<line x1="439.4" y1="421.5" x2="443.4" y2="421.5" stroke="#6a6a6a" stroke-width="1.2"/>
<line x1="683.4" y1="421.5" x2="679.4" y2="421.5" stroke="#6a6a6a" stroke-width="1.2"/>
<line x1="439.4" y1="372.5" x2="443.4" y2="372.5" stroke="#6a6a6a" stroke-width="1.2"/>
<line x1="683.4" y1="372.5" x2="679.4" y2="372.5" stroke="#6a6a6a" stroke-width="1.2"/>
<line x1="439.4" y1="323.4" x2="443.4" y2="323.4" stroke="#6a6a6a" stroke-width="1.2"/>
<line x1="683.4" y1="323.4" x2="679.4" y2="323.4" stroke="#6a6a6a" stroke-width="1.2"/>
<text x="434.6" y="475.6" font-size="14.5" text-anchor="end" fill="#111">0</text>
<text x="434.6" y="426.5" font-size="14.5" text-anchor="end" fill="#111">50</text>
<text x="434.6" y="377.5" font-size="14.5" text-anchor="end" fill="#111">100</text>
<text x="434.6" y="328.4" font-size="14.5" text-anchor="end" fill="#111">150</text>
<text x="434.6" y="279.3" font-size="14.5" text-anchor="end" fill="#111">200</text>
<line x1="456.6" y1="470.6" x2="456.6" y2="466.6" stroke="#6a6a6a" stroke-width="1.2"/>
<line x1="456.6" y1="274.3" x2="456.6" y2="278.3" stroke="#6a6a6a" stroke-width="1.2"/>
<text x="456.6" y="486.4" font-size="14.5" text-anchor="middle" fill="#111">1st</text>
<line x1="526.6" y1="470.6" x2="526.6" y2="466.6" stroke="#6a6a6a" stroke-width="1.2"/>
<line x1="526.6" y1="274.3" x2="526.6" y2="278.3" stroke="#6a6a6a" stroke-width="1.2"/>
<text x="526.6" y="486.4" font-size="14.5" text-anchor="middle" fill="#111">2nd</text>
<line x1="596.6" y1="470.6" x2="596.6" y2="466.6" stroke="#6a6a6a" stroke-width="1.2"/>
<line x1="596.6" y1="274.3" x2="596.6" y2="278.3" stroke="#6a6a6a" stroke-width="1.2"/>
<text x="596.6" y="486.4" font-size="14.5" text-anchor="middle" fill="#111">3rd</text>
<line x1="666.6" y1="470.6" x2="666.6" y2="466.6" stroke="#6a6a6a" stroke-width="1.2"/>
<line x1="666.6" y1="274.3" x2="666.6" y2="278.3" stroke="#6a6a6a" stroke-width="1.2"/>
<text x="666.6" y="486.4" font-size="14.5" text-anchor="middle" fill="#111">4th</text>
<text x="561" y="510.5" font-size="16.5" text-anchor="middle" fill="#111">Order</text>
<text transform="translate(407.8,372.4) rotate(-90)" font-size="16" text-anchor="middle" fill="#111">Frequency (GHz)</text>
<line x1="456.2" y1="289.9" x2="488.6" y2="289.9" stroke="#000" stroke-width="1.5"/>
<rect x="469.5" y="287.09999999999997" width="5.6" height="5.6" fill="#000"/>
<text x="492.7" y="294.5" font-size="14.5" fill="#111">Tersoff+LJ</text>
<line x1="456.2" y1="306.0" x2="488.6" y2="306.0" stroke="#ff2a1a" stroke-width="1.5"/>
<circle cx="472.3" cy="306.0" r="3.1" fill="#ff2a1a"/>
<text x="492.7" y="310.6" font-size="14.5" fill="#111">CGNEP-Tersoff+LJ</text>
</svg></body></html>
